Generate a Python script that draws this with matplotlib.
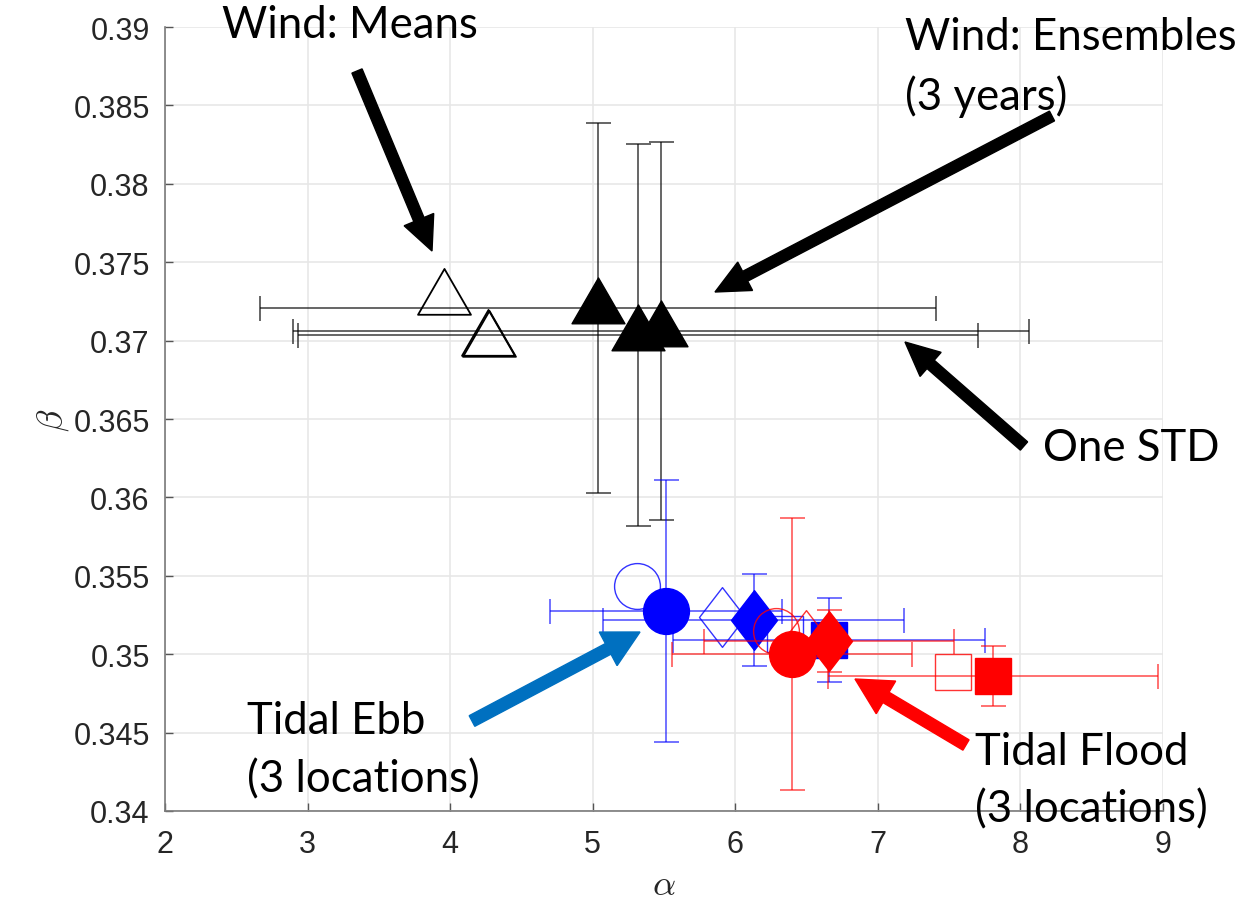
import matplotlib
matplotlib.use("Agg")
import matplotlib.pyplot as plt
from matplotlib.path import Path
from matplotlib.patches import FancyArrow
from matplotlib.transforms import Affine2D
import numpy as np

plt.rcParams["mathtext.fontset"] = "cm"

# ---------------- data ----------------
x_ticks = [2, 3, 4, 5, 6, 7, 8, 9]
y_ticks = [0.34, 0.345, 0.35, 0.355, 0.36, 0.365, 0.37, 0.375, 0.38, 0.385, 0.39]
y_tick_labels = ["0.34", "0.345", "0.35", "0.355", "0.36", "0.365", "0.37",
                 "0.375", "0.38", "0.385", "0.39"]

# Wind means (open triangles)
wind_mean_alpha = [3.96, 4.266, 4.276]
wind_mean_beta = [0.37265, 0.37004, 0.36998]

# Wind ensembles (filled triangles, 3 years)
wind_ens_alpha = [5.036, 5.317, 5.478]
wind_ens_beta = [0.37206, 0.37036, 0.37063]
wind_ens_alpha_std = [2.37, 2.385, 2.58]
wind_ens_beta_std = [0.0118, 0.01218, 0.01206]

# Tidal ebb (blue) -- means (open) and ensembles (filled): circle, diamond, square
ebb_mean_alpha = [5.31, 5.906, 6.348]
ebb_mean_beta = [0.35435, 0.35237, 0.35129]
ebb_ens_alpha = [5.513, 6.13, 6.656]
ebb_ens_beta = [0.352755, 0.35218, 0.350935]
ebb_ens_alpha_std = [0.813, 1.055, 1.094]
ebb_ens_beta_std = [0.00836, 0.00293, 0.00268]

# Tidal flood (red)
flood_mean_alpha = [6.285, 6.495, 7.526]
flood_mean_beta = [0.35148, 0.3509, 0.34886]
flood_ens_alpha = [6.397, 6.656, 7.806]
flood_ens_beta = [0.35001, 0.35084, 0.348607]
flood_ens_alpha_std = [0.842, 0.877, 1.157]
flood_ens_beta_std = [0.00867, 0.00198, 0.00189]

shapes = ["circle", "diamond", "square"]

# ---------------- figure ----------------
W, H = 1253, 912
fig = plt.figure(figsize=(W / 100, H / 100), dpi=100)
ax = fig.add_axes([165 / W, 1 - 812 / H, (1163 - 165) / W, 784 / H])

# custom markers (MATLAB-like)
tri = Path([(0, 1), (-0.866, -0.5), (0.866, -0.5), (0, 1)],
           [Path.MOVETO, Path.LINETO, Path.LINETO, Path.CLOSEPOLY])
dia = Path([(0, 1), (-0.77, 0), (0, -1), (0.77, 0), (0, 1)],
           [Path.MOVETO, Path.LINETO, Path.LINETO, Path.LINETO, Path.CLOSEPOLY])
marker_of = {"circle": ("o", 33), "diamond": (dia, 43), "square": ("s", 26.5)}

ax.set_xlim(2, 9)
ax.set_ylim(0.34, 0.39)
ax.set_xticks(x_ticks)
ax.set_yticks(y_ticks)
ax.set_yticklabels(y_tick_labels)
ax.grid(True, color="#e6e6e6", linewidth=1.1)
ax.set_axisbelow(True)
for s in ["top", "right"]:
    ax.spines[s].set_visible(False)
for s in ["left", "bottom"]:
    ax.spines[s].set_color("#7a7a7a")
    ax.spines[s].set_linewidth(1.2)
ax.tick_params(direction="in", length=6, width=1, color="#555555",
               labelsize=22, labelcolor="#262626")
ax.tick_params(axis="x", pad=13)
ax.tick_params(axis="y", pad=11)
for lab in ax.get_xticklabels() + ax.get_yticklabels():
    lab.set_fontfamily("Liberation Sans")

ax.set_xlabel(r"$\alpha$", fontsize=26, color="#262626", labelpad=6)
ax.set_ylabel(r"$\beta$", fontsize=26, color="#262626", labelpad=2)

# wind means: open triangles
ax.plot(wind_mean_alpha, wind_mean_beta, linestyle="none", marker=tri,
        markersize=44, markerfacecolor="none", markeredgecolor="black",
        markeredgewidth=1.3, zorder=3)
# wind ensembles with one STD error bars
ax.errorbar(wind_ens_alpha, wind_ens_beta, xerr=wind_ens_alpha_std,
            yerr=wind_ens_beta_std, fmt="none", ecolor="black", alpha=0.7,
            elinewidth=1.2, capsize=9, capthick=1.2, zorder=3)
ax.plot(wind_ens_alpha, wind_ens_beta, linestyle="none", marker=tri,
        markersize=44, color="black", zorder=4)

def tidal(mean_a, mean_b, ens_a, ens_b, ens_sa, ens_sb, col, z):
    for a, b, sh in zip(mean_a, mean_b, shapes):
        m, ms = marker_of[sh]
        ax.plot([a], [b], linestyle="none", marker=m, markersize=ms,
                markerfacecolor="none", markeredgecolor=col,
                markeredgewidth=1.0, alpha=0.8, zorder=z)
    ax.errorbar(ens_a, ens_b, xerr=ens_sa, yerr=ens_sb, fmt="none",
                ecolor=col, alpha=0.65, elinewidth=1.2, capsize=9,
                capthick=1.2, zorder=z + 0.1)
    for a, b, sh in zip(ens_a, ens_b, shapes):
        m, ms = marker_of[sh]
        ax.plot([a], [b], linestyle="none", marker=m, markersize=ms,
                color=col, markeredgewidth=1.0, zorder=z + 0.2)

tidal(ebb_mean_alpha, ebb_mean_beta, ebb_ens_alpha, ebb_ens_beta,
      ebb_ens_alpha_std, ebb_ens_beta_std, "blue", 5)
tidal(flood_mean_alpha, flood_mean_beta, flood_ens_alpha, flood_ens_beta,
      flood_ens_alpha_std, flood_ens_beta_std, "red", 6)

# ---------------- annotations (pixel coordinates, y from top) ----------------
px = Affine2D().scale(1 / W, -1 / H).translate(0, 1) + fig.transFigure

def label(x, y, s):
    fig.text(x, y, s, transform=px, ha="left", va="center", fontsize=31.5,
             fontfamily="Lato", color="black", zorder=10)

def arrow(x0, y0, x1, y1, col, w, hw, hl):
    fig.add_artist(FancyArrow(x0, y0, x1 - x0, y1 - y0, width=w,
                              head_width=hw, head_length=hl,
                              length_includes_head=True, color=col,
                              transform=px, zorder=10))

label(222, 25, "Wind: Means")
label(905, 37, "Wind: Ensembles")
label(905, 97, "(3 years)")
label(1043, 449, "One STD")
label(247, 722, "Tidal Ebb")
label(247, 780, "(3 locations)")
label(975, 753, "Tidal Flood")
label(975, 810, "(3 locations)")

arrow(357, 72, 432, 252, "black", 11, 32, 34)
arrow(1052, 117, 715, 293, "black", 11, 32, 34)
arrow(1024, 447, 905, 343, "black", 11, 32, 34)
arrow(472, 722, 640, 633, "#0070C0", 12, 38, 36)
arrow(966, 746, 855, 680, "red", 12, 38, 36)

fig.savefig("out.png", dpi=100)
